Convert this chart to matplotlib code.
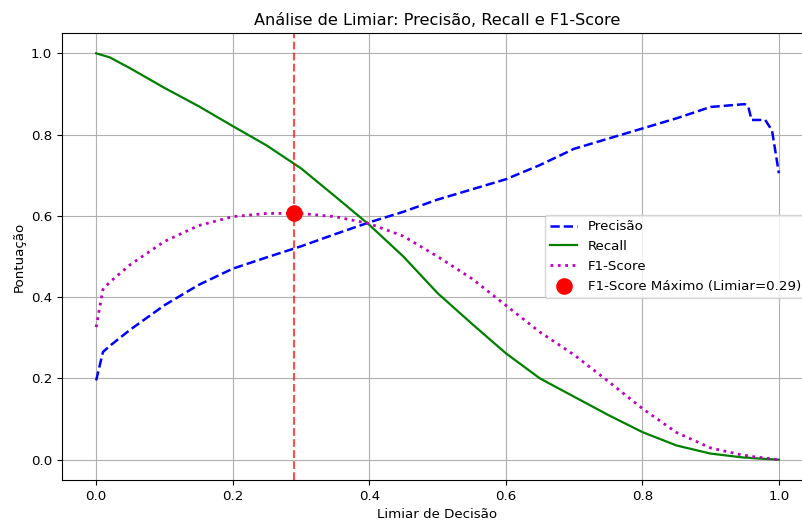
import matplotlib
matplotlib.use("Agg")
import matplotlib.pyplot as plt

# limiares e métricas
limiares = [0.00, 0.01, 0.02, 0.05, 0.10, 0.15, 0.20, 0.25, 0.30, 0.35,
            0.40, 0.45, 0.50, 0.55, 0.60, 0.65, 0.70, 0.75, 0.80, 0.85,
            0.90, 0.95, 0.955, 0.96, 0.98, 0.99, 1.00]
precisao = [0.195, 0.265, 0.280, 0.320, 0.380, 0.430, 0.470, 0.498, 0.525, 0.555,
            0.584, 0.610, 0.640, 0.665, 0.690, 0.725, 0.765, 0.790, 0.815, 0.840,
            0.868, 0.875, 0.870, 0.836, 0.836, 0.810, 0.705]
recall = [1.000, 0.995, 0.990, 0.963, 0.915, 0.870, 0.821, 0.773, 0.717, 0.648,
          0.578, 0.500, 0.410, 0.335, 0.262, 0.200, 0.155, 0.110, 0.068, 0.035,
          0.015, 0.005, 0.005, 0.004, 0.002, 0.001, 0.000]
f1 = [0.326, 0.419, 0.437, 0.480, 0.537, 0.576, 0.598, 0.606, 0.606, 0.598,
      0.581, 0.550, 0.500, 0.446, 0.380, 0.314, 0.258, 0.193, 0.126, 0.067,
      0.029, 0.010, 0.010, 0.008, 0.004, 0.002, 0.000]

melhor_limiar = 0.29
melhor_f1 = 0.607

plt.rcParams['font.size'] = 9.65

fig = plt.figure(figsize=(8.03, 5.25), dpi=100)
ax = fig.add_axes([62 / 803, 45 / 525, 751 / 803, 447 / 525])

ax.plot(limiares, precisao, 'b--', label='Precisão', linewidth=1.8)
ax.plot(limiares, recall, 'g-', label='Recall', linewidth=1.6)
ax.plot(limiares, f1, 'm:', label='F1-Score', linewidth=2)
ax.axvline(x=melhor_limiar, color='r', linestyle='--', alpha=0.7, linewidth=1.5)
ax.scatter([melhor_limiar], [melhor_f1], color='red', s=120, zorder=5,
           label=f'F1-Score Máximo (Limiar={melhor_limiar:.2f})')

ax.set_xlim(-0.05, 1.05)
ax.set_ylim(-0.05, 1.05)
ax.set_xlabel('Limiar de Decisão')
ax.set_ylabel('Pontuação')
ax.set_title('Análise de Limiar: Precisão, Recall e F1-Score')
ax.legend(loc='center right')
ax.grid(True)

fig.savefig('out.png', dpi=100)
